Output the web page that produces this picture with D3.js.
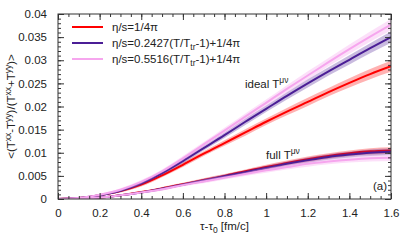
<!DOCTYPE html>
<html>
<head>
<meta charset="utf-8">
<script src="https://cdn.jsdelivr.net/npm/d3@7"></script>
<style>
  body { margin: 0; background: #fff; }
  svg { display: block; font-family: "Liberation Sans", Arial, sans-serif; }
</style>
</head>
<body>
<svg id="chart" width="411" height="247"></svg>
<script>
// time after tau0 [fm/c]
const tau = [0, 0.1, 0.2, 0.3, 0.4, 0.5, 0.6, 0.7, 0.8, 0.9, 1.0, 1.1, 1.2, 1.3, 1.4, 1.5, 1.6];

// ideal T^{mu nu}
const idealConst = [0, 0.0002, 0.0008, 0.0017, 0.0031, 0.0051, 0.0074, 0.0098, 0.0121, 0.0144, 0.0167, 0.0189, 0.0210, 0.0231, 0.0251, 0.0270, 0.0287];
const idealA     = [0, 0.0002, 0.0008, 0.0018, 0.0034, 0.0056, 0.0082, 0.0110, 0.0138, 0.0167, 0.0195, 0.0223, 0.0250, 0.0276, 0.0301, 0.0326, 0.0350];
const idealB     = [0, 0.0002, 0.0009, 0.0020, 0.0037, 0.0060, 0.0088, 0.0118, 0.0148, 0.0178, 0.0208, 0.0238, 0.0267, 0.0296, 0.0324, 0.0351, 0.0377];

// full T^{mu nu}
const fullConst = [0, 0.0001, 0.0003, 0.0008, 0.0015, 0.0023, 0.0032, 0.0041, 0.0050, 0.0060, 0.0069, 0.0078, 0.0086, 0.0093, 0.0099, 0.0103, 0.0105];
const fullA     = [0, 0.0001, 0.0003, 0.0008, 0.0014, 0.0022, 0.0031, 0.0040, 0.0049, 0.0058, 0.0067, 0.0076, 0.0084, 0.0091, 0.0096, 0.0100, 0.0102];
const fullB     = [0, 0.0001, 0.0003, 0.0008, 0.0014, 0.0021, 0.0030, 0.0038, 0.0046, 0.0054, 0.0062, 0.0069, 0.0076, 0.0081, 0.0085, 0.0088, 0.0089];

// band half widths
const errIdeal = [0, 0.0001, 0.0002, 0.0003, 0.0004, 0.0004, 0.0005, 0.0005, 0.0006, 0.0007, 0.0007, 0.0008, 0.0009, 0.0009, 0.0010, 0.0011, 0.0012];
const errFull  = [0, 0.0001, 0.0001, 0.0002, 0.0002, 0.0003, 0.0003, 0.0004, 0.0004, 0.0004, 0.0005, 0.0005, 0.0006, 0.0006, 0.0006, 0.0007, 0.0007];

const xTicks = [0, 0.2, 0.4, 0.6, 0.8, 1, 1.2, 1.4, 1.6];
const yTicks = [0, 0.005, 0.01, 0.015, 0.02, 0.025, 0.03, 0.035, 0.04];

const series = [
  { name: "const", color: "#ff0000", band: "rgba(255,0,0,0.3)", ideal: idealConst, full: fullConst },
  { name: "A", color: "#4b1e96", band: "rgba(75,30,150,0.3)", ideal: idealA, full: fullA },
  { name: "B", color: "#f6a6ee", band: "rgba(246,166,238,0.35)", ideal: idealB, full: fullB }
];

const margin = { left: 58, right: 20, top: 14, bottom: 48 };
const W = 411, H = 247;
const fs = "11.5px", fsSmall = "8.5px";
const svg = d3.select("#chart");

const x = d3.scaleLinear().domain([0, 1.6]).range([margin.left, W - margin.right]);
const y = d3.scaleLinear().domain([0, 0.04]).range([H - margin.bottom, margin.top]);

const plot = svg.append("g");
plot.append("clipPath").attr("id", "clip")
  .append("rect")
  .attr("x", x(0)).attr("y", y(0.04))
  .attr("width", x(1.6) - x(0)).attr("height", y(0) - y(0.04));

const g = plot.append("g").attr("clip-path", "url(#clip)");

const area = function(vals, err) {
  return d3.area()
    .x(function(d, i) { return x(tau[i]); })
    .y0(function(d, i) { return y(vals[i] - err[i]); })
    .y1(function(d, i) { return y(vals[i] + err[i]); })
    .curve(d3.curveMonotoneX)(vals);
};
const line = d3.line()
  .x(function(d, i) { return x(tau[i]); })
  .y(function(d) { return y(d); })
  .curve(d3.curveMonotoneX);

series.forEach(function(s) {
  [["ideal", errIdeal], ["full", errFull]].forEach(function(p) {
    g.append("path").attr("d", area(s[p[0]], p[1])).attr("fill", s.band);
    g.append("path").attr("d", line(s[p[0]]))
      .attr("fill", "none").attr("stroke", s.color).attr("stroke-width", 2);
  });
});

// axes, gnuplot style with inward ticks on all four sides
const axisColor = "#333";
function styleAxis(sel) {
  sel.select(".domain").remove();
  sel.selectAll("line").attr("stroke", axisColor);
  sel.selectAll("text").attr("fill", "#222").style("font-size", fs);
}
const xMinor = d3.range(0, 33).map(function(i) { return i * 0.05; });
const yMinor = d3.range(0, 41).map(function(i) { return i * 0.001; });

svg.append("g").attr("transform", "translate(0," + y(0) + ")")
  .call(d3.axisBottom(x).tickValues(xMinor).tickSize(-3).tickFormat(""))
  .call(styleAxis);
svg.append("g").attr("transform", "translate(0," + y(0) + ")")
  .call(d3.axisBottom(x).tickValues(xTicks).tickSize(-6).tickPadding(10).tickFormat(d3.format("~g")))
  .call(styleAxis);
svg.append("g").attr("transform", "translate(0," + y(0.04) + ")")
  .call(d3.axisTop(x).tickValues(xMinor).tickSize(-3).tickFormat(""))
  .call(styleAxis);
svg.append("g").attr("transform", "translate(0," + y(0.04) + ")")
  .call(d3.axisTop(x).tickValues(xTicks).tickSize(-6).tickFormat(""))
  .call(styleAxis);

svg.append("g").attr("transform", "translate(" + x(0) + ",0)")
  .call(d3.axisLeft(y).tickValues(yMinor).tickSize(-3).tickFormat(""))
  .call(styleAxis);
svg.append("g").attr("transform", "translate(" + x(0) + ",0)")
  .call(d3.axisLeft(y).tickValues(yTicks).tickSize(-6).tickPadding(11).tickFormat(d3.format("~g")))
  .call(styleAxis);
svg.append("g").attr("transform", "translate(" + x(1.6) + ",0)")
  .call(d3.axisRight(y).tickValues(yMinor).tickSize(-3).tickFormat(""))
  .call(styleAxis);
svg.append("g").attr("transform", "translate(" + x(1.6) + ",0)")
  .call(d3.axisRight(y).tickValues(yTicks).tickSize(-6).tickFormat(""))
  .call(styleAxis);

svg.append("rect")
  .attr("x", x(0)).attr("y", y(0.04))
  .attr("width", x(1.6) - x(0)).attr("height", y(0) - y(0.04))
  .attr("fill", "none").attr("stroke", axisColor).attr("stroke-width", 1);

// legend
const legend = svg.append("g").style("font-size", fs).attr("fill", "#222");
const legendLabels = [
  [["η/s=1/4π", 0]],
  [["η/s=0.2427(T/T", 0], ["tr", 1], ["-1)+1/4π", 0]],
  [["η/s=0.5516(T/T", 0], ["tr", 1], ["-1)+1/4π", 0]]
];
series.forEach(function(s, i) {
  const ly = 27 + i * 16;
  legend.append("line")
    .attr("x1", 72).attr("x2", 103).attr("y1", ly).attr("y2", ly)
    .attr("stroke", s.color).attr("stroke-width", 2);
  const t = legend.append("text").attr("x", 112).attr("y", ly + 4);
  legendLabels[i].forEach(function(part) {
    const ts = t.append("tspan").text(part[0]);
    if (part[1]) ts.attr("dy", 3).style("font-size", fsSmall);
    else if (t.selectAll("tspan").size() > 1) ts.attr("dy", -3);
  });
});

// annotations
function supText(xp, yp, base, sup) {
  const t = svg.append("text").attr("x", xp).attr("y", yp)
    .style("font-size", fs).attr("fill", "#222");
  t.append("tspan").text(base);
  t.append("tspan").text(sup).attr("dy", -5).style("font-size", fsSmall);
  return t;
}
supText(245, 88, "ideal T", "μν");
supText(266, 159, "full T", "μν");
svg.append("text").attr("x", 373).attr("y", 190)
  .style("font-size", fs).attr("fill", "#222").text("(a)");

// axis titles
const xt = svg.append("text")
  .attr("x", (x(0) + x(1.6)) / 2).attr("y", 230)
  .attr("text-anchor", "middle").style("font-size", fs).attr("fill", "#222");
xt.append("tspan").text("τ-τ");
xt.append("tspan").text("0").attr("dy", 3).style("font-size", fsSmall);
xt.append("tspan").text(" [fm/c]").attr("dy", -3);

const yt = svg.append("text")
  .attr("transform", "translate(15," + ((y(0) + y(0.04)) / 2) + ") rotate(-90)")
  .attr("text-anchor", "middle").style("font-size", fs).attr("fill", "#222");
[["<(T", 0], ["xx", 1], ["-T", 0], ["yy", 1], [")/(T", 0], ["xx", 1], ["+T", 0], ["yy", 1], [")>", 0]]
  .forEach(function(part, i) {
    const ts = yt.append("tspan").text(part[0]);
    if (part[1]) ts.attr("dy", -4).style("font-size", fsSmall);
    else if (i > 0) ts.attr("dy", 4);
  });
</script>
</body>
</html>
